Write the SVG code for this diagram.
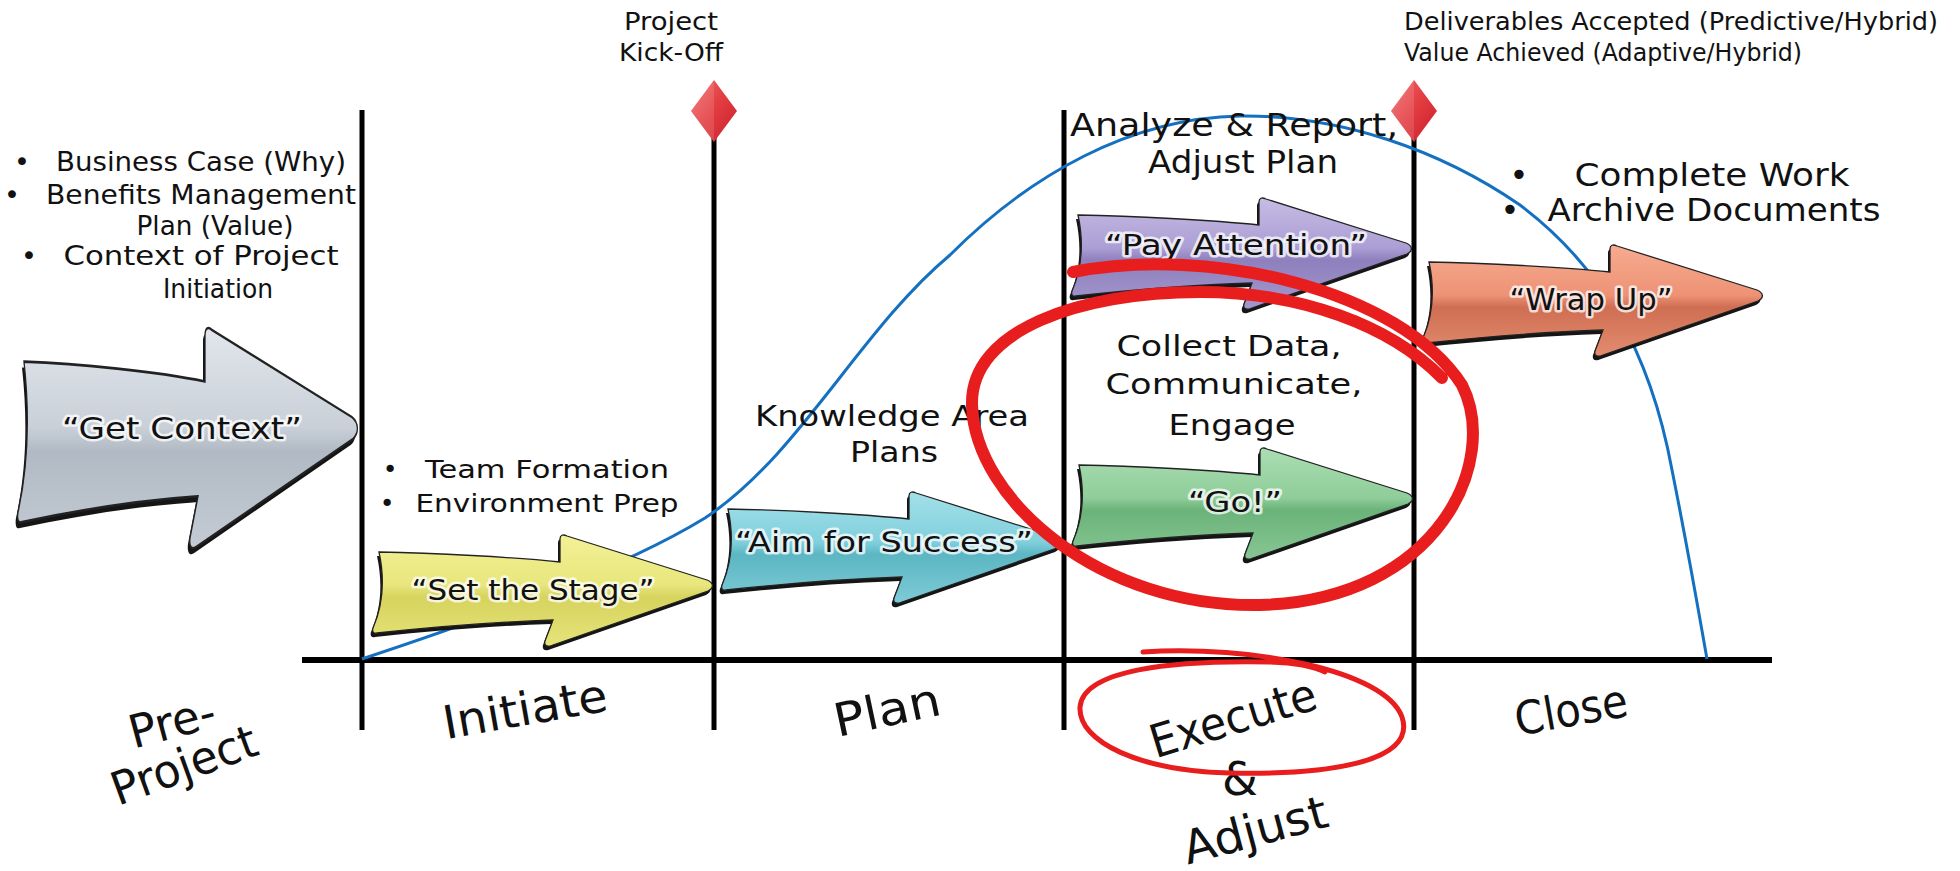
<svg xmlns="http://www.w3.org/2000/svg" xmlns:xlink="http://www.w3.org/1999/xlink" width="1960" height="871" viewBox="0 0 1960 871">
<style>
  .txt { font-family: "DejaVu Sans", "Liberation Sans", sans-serif; fill: #111; }
  .lbl { font-family: "DejaVu Sans", "Liberation Sans", sans-serif; fill: #111; paint-order: stroke; stroke: rgba(255,255,255,0.75); stroke-width: 5px; stroke-linejoin: round; }
  .phase { font-family: "DejaVu Sans", "Liberation Sans", sans-serif; fill: #111; font-size: 46px; }
  .vline { stroke: #000; stroke-width: 5; }
  .axis { stroke: #000; stroke-width: 6; }
  .curve { fill: none; stroke: #1470c0; stroke-width: 3; }
  .shadow { fill: #151515; }
  .body { stroke: #222; stroke-width: 1.3; vector-effect: non-scaling-stroke; }
  .red { fill: none; stroke: #e81e1e; stroke-linecap: round; stroke-linejoin: round; }
</style>
<defs>
  <path id="arrowShape" d="M6,17 C60,18 140,22 187,27 L187,4 C187,0 190,-1 194,1 L334,45 C341,48 341,53 335,56 L180,110 C173,113 171,110 172,106 L180,85 C120,87 60,92 4,98 C0,99 -1,96 0,93 C10,70 12,45 6,17 Z"/>
  <linearGradient id="gGray" x1="0" y1="0" x2="0" y2="1">
    <stop offset="0" stop-color="#e2e6ec"/><stop offset="0.45" stop-color="#c9d0d8"/><stop offset="0.56" stop-color="#b1bac4"/><stop offset="1" stop-color="#c4cbd4"/>
  </linearGradient>
  <linearGradient id="gYellow" x1="0" y1="0" x2="0" y2="1">
    <stop offset="0" stop-color="#f3f195"/><stop offset="0.45" stop-color="#e8e67c"/><stop offset="0.56" stop-color="#d6d35e"/><stop offset="1" stop-color="#e6e47a"/>
  </linearGradient>
  <linearGradient id="gCyan" x1="0" y1="0" x2="0" y2="1">
    <stop offset="0" stop-color="#a3e0e9"/><stop offset="0.45" stop-color="#80d0dc"/><stop offset="0.56" stop-color="#5cb6c3"/><stop offset="1" stop-color="#7ecbd7"/>
  </linearGradient>
  <linearGradient id="gPurple" x1="0" y1="0" x2="0" y2="1">
    <stop offset="0" stop-color="#c6bce4"/><stop offset="0.45" stop-color="#ab9ed4"/><stop offset="0.56" stop-color="#8e80bd"/><stop offset="1" stop-color="#a597cd"/>
  </linearGradient>
  <linearGradient id="gGreen" x1="0" y1="0" x2="0" y2="1">
    <stop offset="0" stop-color="#abdeb3"/><stop offset="0.45" stop-color="#8fcd9a"/><stop offset="0.56" stop-color="#6ab379"/><stop offset="1" stop-color="#88c694"/>
  </linearGradient>
  <linearGradient id="gOrange" x1="0" y1="0" x2="0" y2="1">
    <stop offset="0" stop-color="#f6ab90"/><stop offset="0.45" stop-color="#ee9276"/><stop offset="0.56" stop-color="#cf6e53"/><stop offset="1" stop-color="#e38c6f"/>
  </linearGradient>
  <linearGradient id="gDiamond" x1="0" y1="0" x2="1" y2="1">
    <stop offset="0" stop-color="#f26a6a"/><stop offset="0.5" stop-color="#e23b40"/><stop offset="1" stop-color="#c8202b"/>
  </linearGradient>
</defs>
<rect width="1960" height="871" fill="#fff"/>

<g id="connectors">
  <line class="vline" x1="362" y1="110" x2="362" y2="730"/>
  <line class="vline" x1="714" y1="138" x2="714" y2="730"/>
  <line class="vline" x1="1064" y1="110" x2="1064" y2="730"/>
  <line class="vline" x1="1414" y1="138" x2="1414" y2="730"/>
  <line class="axis" x1="302" y1="660" x2="1772" y2="660"/>
  <path class="curve" d="M362,659 C480,620 620,570 705,518 C800,455 860,330 950,255 C1030,175 1130,118 1240,116 C1340,115 1440,150 1520,205 C1600,265 1650,350 1672,470 C1690,560 1700,620 1707,659"/>
</g>

<g id="milestone-kickoff">
  <path d="M714,80 L737,111 L714,142 L691,111 Z" fill="url(#gDiamond)"/>
  <path d="M714,80 L714,142 L691,111 Z" fill="#ffffff" opacity="0.12"/>
  <text class="txt" font-size="24" text-anchor="middle" x="671" y="30" textLength="94" lengthAdjust="spacingAndGlyphs">Project</text>
  <text class="txt" font-size="24" text-anchor="middle" x="671" y="61" textLength="104" lengthAdjust="spacingAndGlyphs">Kick-Off</text>
</g>

<g id="milestone-accepted">
  <path d="M1414,80 L1437,111 L1414,142 L1391,111 Z" fill="url(#gDiamond)"/>
  <path d="M1414,80 L1414,142 L1391,111 Z" fill="#ffffff" opacity="0.12"/>
  <text class="txt" font-size="24" x="1404" y="30" textLength="534" lengthAdjust="spacingAndGlyphs">Deliverables Accepted (Predictive/Hybrid)</text>
  <text class="txt" font-size="24" x="1404" y="61" textLength="398" lengthAdjust="spacingAndGlyphs">Value Achieved (Adaptive/Hybrid)</text>
</g>

<g id="pre-project-notes">
  <text class="txt" font-size="27" x="22" y="171" text-anchor="middle">•</text>
  <text class="txt" font-size="27" x="201" y="171" text-anchor="middle" textLength="290" lengthAdjust="spacingAndGlyphs">Business Case (Why)</text>
  <text class="txt" font-size="27" x="12" y="204" text-anchor="middle">•</text>
  <text class="txt" font-size="27" x="201" y="204" text-anchor="middle" textLength="310" lengthAdjust="spacingAndGlyphs">Benefits Management</text>
  <text class="txt" font-size="27" x="215" y="235" text-anchor="middle" textLength="157" lengthAdjust="spacingAndGlyphs">Plan (Value)</text>
  <text class="txt" font-size="27" x="29" y="265" text-anchor="middle">•</text>
  <text class="txt" font-size="27" x="201" y="265" text-anchor="middle" textLength="275" lengthAdjust="spacingAndGlyphs">Context of Project</text>
  <text class="txt" font-size="27" x="218" y="298" text-anchor="middle" textLength="110" lengthAdjust="spacingAndGlyphs">Initiation</text>
</g>

<g id="node-get-context">
  <g transform="translate(18,328) scale(1,1.98)">
    <use xlink:href="#arrowShape" class="shadow" transform="translate(-2,3)"/>
    <use xlink:href="#arrowShape" class="body" fill="url(#gGray)"/>
  </g>
  <text class="lbl" font-size="30" x="182" y="439" text-anchor="middle" textLength="240" lengthAdjust="spacingAndGlyphs">“Get Context”</text>
</g>

<g id="initiate-notes">
  <text class="txt" font-size="25" x="390" y="478" text-anchor="middle">•</text>
  <text class="txt" font-size="25" x="547" y="478" text-anchor="middle" textLength="244" lengthAdjust="spacingAndGlyphs">Team Formation</text>
  <text class="txt" font-size="25" x="387" y="512" text-anchor="middle">•</text>
  <text class="txt" font-size="25" x="547" y="512" text-anchor="middle" textLength="263" lengthAdjust="spacingAndGlyphs">Environment Prep</text>
</g>

<g id="node-set-the-stage">
  <g transform="translate(373,535)">
    <use xlink:href="#arrowShape" class="shadow" transform="translate(-2,4)"/>
    <use xlink:href="#arrowShape" class="body" fill="url(#gYellow)"/>
  </g>
  <text class="lbl" font-size="28" x="533" y="600" text-anchor="middle" textLength="243" lengthAdjust="spacingAndGlyphs">“Set the Stage”</text>
</g>

<g id="plan-notes">
  <text class="txt" font-size="28" x="892" y="426" text-anchor="middle" textLength="274" lengthAdjust="spacingAndGlyphs">Knowledge Area</text>
  <text class="txt" font-size="28" x="894" y="462" text-anchor="middle" textLength="88" lengthAdjust="spacingAndGlyphs">Plans</text>
</g>

<g id="node-aim-for-success">
  <g transform="translate(722,492)">
    <use xlink:href="#arrowShape" class="shadow" transform="translate(-2,4)"/>
    <use xlink:href="#arrowShape" class="body" fill="url(#gCyan)"/>
  </g>
  <text class="lbl" font-size="28" x="884" y="552" text-anchor="middle" textLength="298" lengthAdjust="spacingAndGlyphs">“Aim for Success”</text>
</g>

<g id="execute-notes">
  <text class="txt" font-size="32" x="1234" y="136" text-anchor="middle" textLength="328" lengthAdjust="spacingAndGlyphs">Analyze &amp; Report,</text>
  <text class="txt" font-size="32" x="1243" y="173" text-anchor="middle" textLength="190" lengthAdjust="spacingAndGlyphs">Adjust Plan</text>
  <text class="txt" font-size="29" x="1229" y="356" text-anchor="middle" textLength="225" lengthAdjust="spacingAndGlyphs">Collect Data,</text>
  <text class="txt" font-size="29" x="1234" y="394" text-anchor="middle" textLength="257" lengthAdjust="spacingAndGlyphs">Communicate,</text>
  <text class="txt" font-size="29" x="1232" y="435" text-anchor="middle" textLength="127" lengthAdjust="spacingAndGlyphs">Engage</text>
</g>

<g id="node-pay-attention">
  <g transform="translate(1072,198)">
    <use xlink:href="#arrowShape" class="shadow" transform="translate(-2,4)"/>
    <use xlink:href="#arrowShape" class="body" fill="url(#gPurple)"/>
  </g>
  <text class="lbl" font-size="28" x="1236" y="255" text-anchor="middle" textLength="262" lengthAdjust="spacingAndGlyphs">“Pay Attention”</text>
</g>

<g id="node-go">
  <g transform="translate(1073,448)">
    <use xlink:href="#arrowShape" class="shadow" transform="translate(-2,4)"/>
    <use xlink:href="#arrowShape" class="body" fill="url(#gGreen)"/>
  </g>
  <text class="lbl" font-size="28" x="1235" y="512" text-anchor="middle" textLength="94" lengthAdjust="spacingAndGlyphs">“Go!”</text>
</g>

<g id="close-notes">
  <text class="txt" font-size="32" x="1519" y="186" text-anchor="middle">•</text>
  <text class="txt" font-size="32" x="1712" y="186" text-anchor="middle" textLength="275" lengthAdjust="spacingAndGlyphs">Complete Work</text>
  <text class="txt" font-size="32" x="1510" y="221" text-anchor="middle">•</text>
  <text class="txt" font-size="32" x="1714" y="221" text-anchor="middle" textLength="333" lengthAdjust="spacingAndGlyphs">Archive Documents</text>
</g>

<g id="node-wrap-up">
  <g transform="translate(1423,245)">
    <use xlink:href="#arrowShape" class="shadow" transform="translate(-2,4)"/>
    <use xlink:href="#arrowShape" class="body" fill="url(#gOrange)"/>
  </g>
  <text class="lbl" font-size="30" x="1591" y="310" text-anchor="middle" textLength="163" lengthAdjust="spacingAndGlyphs">“Wrap Up”</text>
</g>

<g id="phase-labels">
  <text class="phase" x="172" y="738" text-anchor="middle" transform="rotate(-15 172 722)" textLength="88" lengthAdjust="spacingAndGlyphs">Pre-</text>
  <text class="phase" x="184" y="781" text-anchor="middle" transform="rotate(-20 184 765)" textLength="152" lengthAdjust="spacingAndGlyphs">Project</text>
  <text class="phase" x="525" y="725" text-anchor="middle" transform="rotate(-10 525 709)" textLength="166" lengthAdjust="spacingAndGlyphs">Initiate</text>
  <text class="phase" x="887" y="726" text-anchor="middle" transform="rotate(-12 887 710)" textLength="108" lengthAdjust="spacingAndGlyphs">Plan</text>
  <text class="phase" x="1233" y="734" text-anchor="middle" transform="rotate(-17 1233 718)" textLength="172" lengthAdjust="spacingAndGlyphs">Execute</text>
  <text class="phase" x="1240" y="795" text-anchor="middle" font-size="40">&amp;</text>
  <text class="phase" x="1255" y="846" text-anchor="middle" transform="rotate(-15 1255 830)" textLength="148" lengthAdjust="spacingAndGlyphs">Adjust</text>
  <text class="phase" x="1571" y="726" text-anchor="middle" transform="rotate(-10 1571 710)" textLength="114" lengthAdjust="spacingAndGlyphs">Close</text>
</g>

<g id="red-marks">
  <path class="red" stroke-width="12" d="M1073,272 C1210,245 1400,290 1462,385 C1500,460 1440,600 1260,605 C1100,608 975,500 972,405 C970,330 1080,292 1200,292 C1300,292 1390,325 1442,378"/>
  <path class="red" stroke-width="5" d="M1143,652 C1250,645 1385,670 1402,717 C1418,764 1320,775 1230,773 C1140,771 1078,742 1080,707 C1083,670 1170,660 1270,662 C1300,663 1315,667 1325,672"/>
</g>
</svg>
